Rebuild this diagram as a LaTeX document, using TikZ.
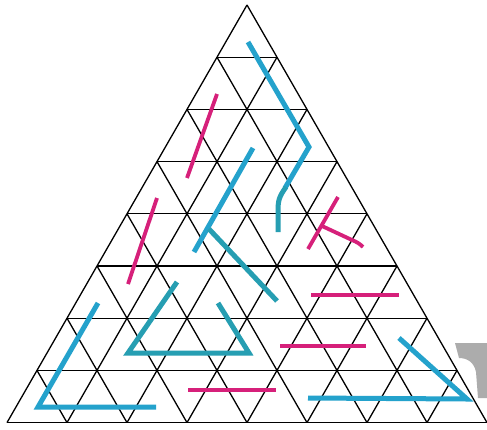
\documentclass[tikz,border=0pt]{standalone}
\definecolor{mag}{RGB}{214,32,122}
\definecolor{sky}{RGB}{36,162,204}
\definecolor{teal2}{RGB}{38,158,178}
\definecolor{greyc}{RGB}{172,172,172}
\tikzset{
  gridline/.style={black, line width=1.3pt},
  magline/.style={mag, line width=3.8pt},
  blueline/.style={sky, line width=5pt},
  tealline/.style={teal2, line width=5pt}
}
\begin{document}
\begin{tikzpicture}[x=1pt,y=-1pt]
\useasboundingbox (0,0) rectangle (487,429);
\fill[white] (0,0) rectangle (487,429);
% grey partial letter at right
\fill[greyc] (455,343) -- (487,343) -- (487,398) -- (478,398) -- (476,372)
  .. controls (474,362) and (467,358) .. (459,358) -- cycle;
% grid
\foreach \j in {1,...,8}
  \draw[gridline] ({247-30*\j},{5+52.2*\j}) -- ({247+30*\j},{5+52.2*\j});
\foreach \k in {0,...,7}
  \draw[gridline] ({247+30*\k},{5+52.2*\k}) -- ({7+60*\k},422.6);
\foreach \m in {0,...,7}
  \draw[gridline] ({247-30*\m},{5+52.2*\m}) -- ({487-60*\m},422.6);
% blue paths
\draw[blueline] (248,42) -- (309,147) -- (285,188);
\draw[tealline] (286,187) .. controls (279,197) and (278,200) .. (278,212) -- (278,232);
\draw[blueline] (253,148) -- (194,252);
\draw[tealline] (209,229) -- (277,301);
\draw[tealline] (177,282) -- (128,353) -- (249,353) -- (218,303);
\draw[blueline] (98,303) -- (38,407) -- (156,407);
\draw[blueline] (399,338) -- (467,399) -- (308,398);
% magenta paths
\draw[magline] (217,94) -- (187,178);
\draw[magline] (157,198) -- (128,284);
\draw[magline] (338,197) -- (308,249);
\draw[magline] (322,226) -- (352,240) .. controls (357,242) and (360,244) .. (363,247);
\draw[magline] (311,295) -- (399,295);
\draw[magline] (280,346) -- (366,346);
\draw[magline] (188,390) -- (276,390);
\end{tikzpicture}
\end{document}
